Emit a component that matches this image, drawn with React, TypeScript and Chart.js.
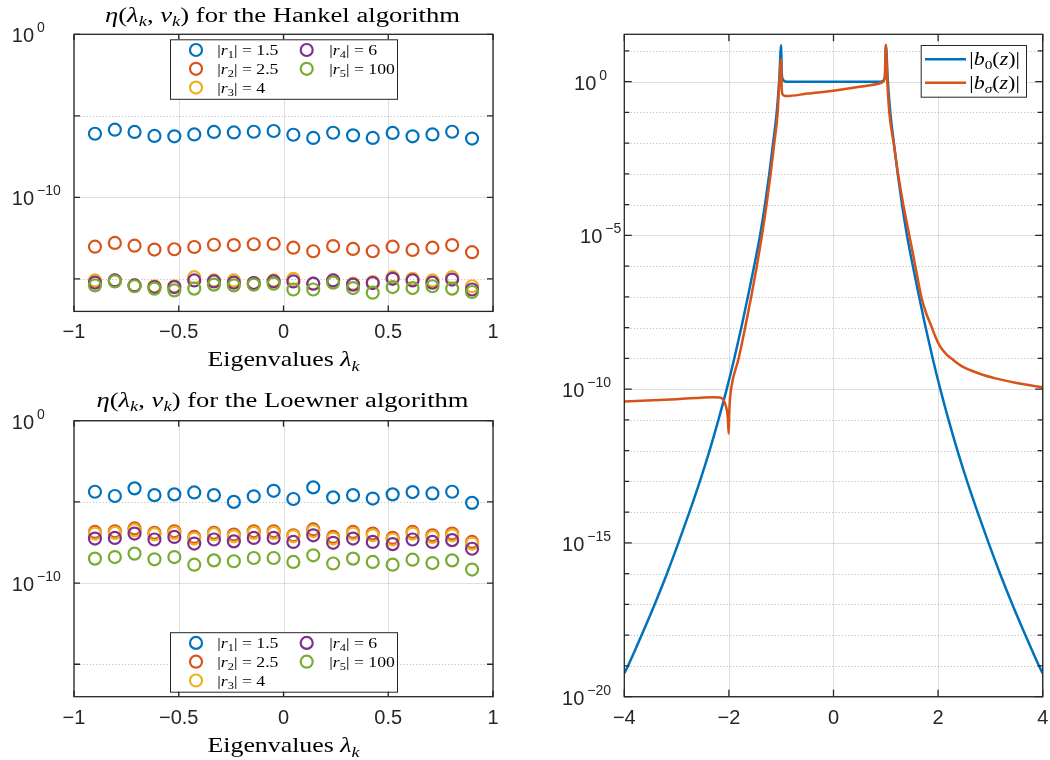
import React, { useEffect, useRef } from 'react';
import { Chart, registerables } from 'chart.js';

Chart.register(...registerables);

// ---------------- data ----------------
const EIGENVALUES = [-0.9, -0.805, -0.711, -0.616, -0.521, -0.426, -0.332, -0.237, -0.142, -0.047, 0.047, 0.142, 0.237, 0.332, 0.426, 0.521, 0.616, 0.711, 0.805, 0.9];

const R_LABELS = ['1.5', '2.5', '4', '6', '100'];

const HANKEL_R1 = [7.9e-7, 1.41e-6, 1.02e-6, 5.8e-7, 5.5e-7, 7.2e-7, 1.02e-6, 9.5e-7, 1.05e-6, 1.17e-6, 6.9e-7, 4.4e-7, 9.1e-7, 6.3e-7, 4.4e-7, 8.9e-7, 5.5e-7, 7.2e-7, 1.05e-6, 4.0e-7];
const HANKEL_R2 = [9.3e-14, 1.58e-13, 1.07e-13, 6.2e-14, 6.5e-14, 8.9e-14, 1.23e-13, 1.17e-13, 1.32e-13, 1.41e-13, 8.1e-14, 4.9e-14, 1.02e-13, 6.8e-14, 4.9e-14, 9.3e-14, 5.9e-14, 8.1e-14, 1.17e-13, 4.3e-14];
const HANKEL_R3 = [7.9e-16, 7.9e-16, 3.9e-16, 3.5e-16, 3.5e-16, 1.26e-15, 7.9e-16, 7.9e-16, 5.5e-16, 7.9e-16, 1.0e-15, 5.0e-16, 7.9e-16, 5.0e-16, 6.3e-16, 1.26e-15, 1.0e-15, 7.9e-16, 1.26e-15, 3.5e-16];
const HANKEL_R4 = [5.8e-16, 7.9e-16, 3.9e-16, 3.1e-16, 3.1e-16, 7.9e-16, 6.9e-16, 5.8e-16, 5.5e-16, 6.9e-16, 6.9e-16, 5.0e-16, 7.9e-16, 4.4e-16, 5.5e-16, 1.0e-15, 7.9e-16, 5.8e-16, 9.0e-16, 2.2e-16];
const HANKEL_R5 = [3.9e-16, 6.9e-16, 3.5e-16, 2.5e-16, 1.95e-16, 2.5e-16, 4.4e-16, 3.9e-16, 4.4e-16, 5.0e-16, 2.2e-16, 2.2e-16, 5.8e-16, 2.7e-16, 1.4e-16, 3.1e-16, 2.7e-16, 3.5e-16, 2.5e-16, 1.55e-16];

const LOEWNER_R1 = [4.2e-5, 2.3e-5, 6.8e-5, 2.6e-5, 2.9e-5, 3.8e-5, 2.6e-5, 1.0e-5, 2.2e-5, 4.8e-5, 1.5e-5, 7.8e-5, 1.9e-5, 2.6e-5, 1.6e-5, 2.9e-5, 4.0e-5, 3.3e-5, 4.2e-5, 8.7e-6];
const LOEWNER_R2 = [1.4e-7, 1.55e-7, 2.3e-7, 1.23e-7, 1.55e-7, 6.9e-8, 1.23e-7, 9.8e-8, 1.55e-7, 1.55e-7, 8.7e-8, 2.0e-7, 6.9e-8, 1.4e-7, 1.12e-7, 6.0e-8, 1.4e-7, 8.7e-8, 1.12e-7, 3.4e-8];
const LOEWNER_R3 = [1.12e-7, 1.23e-7, 1.8e-7, 1.02e-7, 1.23e-7, 5.5e-8, 1.02e-7, 7.6e-8, 1.23e-7, 1.23e-7, 7.6e-8, 1.6e-7, 5.5e-8, 1.12e-7, 8.7e-8, 4.8e-8, 1.12e-7, 6.9e-8, 8.7e-8, 2.7e-8];
const LOEWNER_R4 = [5.5e-8, 6.0e-8, 1.12e-7, 4.8e-8, 6.9e-8, 2.7e-8, 4.8e-8, 3.7e-8, 6.0e-8, 6.0e-8, 3.4e-8, 8.7e-8, 3.0e-8, 5.5e-8, 3.4e-8, 2.5e-8, 4.8e-8, 3.4e-8, 4.4e-8, 1.3e-8];
const LOEWNER_R5 = [3.2e-9, 4.0e-9, 6.5e-9, 2.9e-9, 4.0e-9, 1.35e-9, 2.5e-9, 2.2e-9, 3.5e-9, 3.5e-9, 2.0e-9, 5.1e-9, 1.6e-9, 3.2e-9, 2.0e-9, 1.35e-9, 2.75e-9, 1.7e-9, 2.5e-9, 6.8e-10];

const B0_Z = [-4.0, -3.93, -3.67, -3.42, -3.185, -2.965, -2.755, -2.555, -2.37, -2.2, -2.042, -1.897, -1.763, -1.638, -1.518, -1.405, -1.31, -1.228, -1.155, -1.086, -1.04, -1.0, -0.99, -0.97, -0.94, -0.9,
  0.9, 0.94, 0.97, 0.99, 1.0, 1.04, 1.086, 1.155, 1.228, 1.31, 1.405, 1.518, 1.638, 1.763, 1.897, 2.042, 2.2, 2.37, 2.555, 2.755, 2.965, 3.185, 3.42, 3.67, 3.93, 4.0];
const B0_VALUES = [5.8e-20, 1e-19, 1e-18, 1e-17, 1e-16, 1e-15, 1e-14, 1e-13, 1e-12, 1e-11, 1e-10, 1e-9, 1e-8, 1e-7, 1e-6, 1e-5, 1e-4, 1e-3, 1e-2, 0.1, 1, 15.5, 2.0, 1.2, 1.05, 1.0,
  1.0, 1.05, 1.2, 2.0, 15.5, 1, 0.1, 1e-2, 1e-3, 1e-4, 1e-5, 1e-6, 1e-7, 1e-8, 1e-9, 1e-10, 1e-11, 1e-12, 1e-13, 1e-14, 1e-15, 1e-16, 1e-17, 1e-18, 1e-19, 5.8e-20];

const BSIGMA_Z = [-4, -3.0, -2.3, -2.17, -2.106, -2.055, -2.023, -2.004, -1.995, -1.985, -1.959, -1.814, -1.69, -1.574, -1.466, -1.368, -1.28, -1.202, -1.132, -1.067, -1.035, -1.0, -0.99, -0.97, -0.93, -0.89, -0.5, 0, 0.5, 0.89, 0.95, 0.98, 1.0,
  1.029, 1.067, 1.15, 1.235, 1.335, 1.45, 1.565, 1.68, 1.77, 1.877, 1.95, 2.036, 2.15, 2.29, 2.45, 2.61, 2.85, 3.12, 3.5, 4.0];
const BSIGMA_VALUES = [4.0e-11, 4.7e-11, 5.5e-11, 5.4e-11, 4.5e-11, 2.75e-11, 1.3e-11, 3.6e-12, 1.26e-11, 3.5e-11, 1e-10, 1e-9, 1e-8, 1e-7, 1e-6, 1e-5, 1e-4, 1e-3, 1e-2, 0.1, 1, 5.4, 0.56, 0.38, 0.343, 0.34, 0.41, 0.51, 0.68, 0.89, 1.0, 1.41, 15.5,
  1, 0.1, 1e-2, 1e-3, 1e-4, 1e-5, 1e-6, 1e-7, 3.0e-8, 1.05e-8, 5e-9, 2.5e-9, 1.4e-9, 8.9e-10, 5.6e-10, 4.2e-10, 2.95e-10, 2.2e-10, 1.6e-10, 1.15e-10];

const LEFT_X_TICKS = [-1, -0.5, 0, 0.5, 1];
const LEFT_X_LABELS = ['-1', '-0.5', '0', '0.5', '1'];
const LEFT_Y_MAJOR = [0, -10];
const LEFT_Y_MINOR = [-5, -15];
const RIGHT_X_TICKS = [-4, -2, 0, 2, 4];
const RIGHT_X_LABELS = ['-4', '-2', '0', '2', '4'];
const RIGHT_Y_MAJOR = [0, -5, -10, -15, -20];
const RIGHT_Y_MINOR = [1, -1, -2, -3, -4, -6, -7, -8, -9, -11, -12, -13, -14, -16, -17, -18, -19];

// ---------------- styling ----------------
const COLORS = ['#0072BD', '#D95319', '#EDB120', '#7E2F8E', '#77AC30'];
const SANS = "'Liberation Sans', Arial, Helvetica, sans-serif";
const SERIF = "'Liberation Serif', 'Times New Roman', serif";
const AXIS = '#262626';

type Seg = { t: string; it?: boolean; sub?: boolean; sup?: boolean };

function segFont(s: Seg, size: number, family: string) {
  const sz = s.sub || s.sup ? size * 0.7 : size;
  return `${s.it ? 'italic ' : ''}${sz}px ${family}`;
}

function drawRich(ctx: CanvasRenderingContext2D, segs: Seg[], x: number, y: number, size: number, family: string,
  align: 'left' | 'center' | 'right', opts: { width?: number; stretch?: number; color?: string } = {}) {
  let nat = 0;
  for (const s of segs) { ctx.font = segFont(s, size, family); nat += ctx.measureText(s.t).width; }
  const sx = opts.width ? opts.width / nat : (opts.stretch ?? 1);
  const total = nat * sx;
  const x0 = align === 'left' ? x : align === 'center' ? x - total / 2 : x - total;
  ctx.save();
  ctx.translate(x0, y);
  ctx.scale(sx, 1);
  ctx.fillStyle = opts.color ?? '#000';
  ctx.textAlign = 'left';
  ctx.textBaseline = 'alphabetic';
  let cx = 0;
  for (const s of segs) {
    ctx.font = segFont(s, size, family);
    const dy = s.sub ? size * 0.22 : s.sup ? -size * 0.42 : 0;
    ctx.fillText(s.t, cx, dy);
    cx += ctx.measureText(s.t).width;
  }
  ctx.restore();
}

function minusify(s: string) { return s.replace('-', '\u2212'); }

type LegendCfg =
  | { kind: 'markers'; anchor: 'top' | 'bottom' }
  | { kind: 'lines' };

type AxesCfg = {
  xTicks: number[]; xLabels: string[]; yMajor: number[]; yMinor: number[];
  majorTick: number; minorTick: number; xTick: number;
  yLabelShift?: number[];
  title?: Seg[]; titleWidth?: number; titleOffset?: number;
  xlabel?: Seg[]; xlabelWidth?: number;
  legend: LegendCfg;
};

function axesPlugin(cfg: AxesCfg) {
  return {
    id: 'matlabAxes',
    beforeDatasetsDraw(chart: any) {
      const { ctx, chartArea: a, scales } = chart;
      const xs = scales.x, ys = scales.y;
      ctx.save();
      ctx.lineWidth = 1;
      ctx.strokeStyle = 'rgba(38,38,38,0.15)';
      ctx.setLineDash([]);
      ctx.beginPath();
      for (const t of cfg.xTicks) {
        const px = Math.round(xs.getPixelForValue(t)) + 0.5;
        ctx.moveTo(px, a.top); ctx.lineTo(px, a.bottom);
      }
      for (const e of cfg.yMajor) {
        const py = Math.round(ys.getPixelForValue(Math.pow(10, e))) + 0.5;
        ctx.moveTo(a.left, py); ctx.lineTo(a.right, py);
      }
      ctx.stroke();
      ctx.strokeStyle = 'rgba(38,38,38,0.32)';
      ctx.setLineDash([1, 2.2]);
      ctx.beginPath();
      for (const e of cfg.yMinor) {
        const py = Math.round(ys.getPixelForValue(Math.pow(10, e))) + 0.5;
        ctx.moveTo(a.left, py); ctx.lineTo(a.right, py);
      }
      ctx.stroke();
      ctx.restore();
    },
    afterDatasetsDraw(chart: any) {
      const { ctx, chartArea: a, scales } = chart;
      const xs = scales.x, ys = scales.y;
      ctx.save();
      ctx.strokeStyle = AXIS;
      ctx.lineWidth = 1.3;
      ctx.setLineDash([]);
      ctx.strokeRect(a.left, a.top, a.right - a.left, a.bottom - a.top);
      ctx.beginPath();
      for (const t of cfg.xTicks) {
        const px = xs.getPixelForValue(t);
        ctx.moveTo(px, a.bottom); ctx.lineTo(px, a.bottom - cfg.xTick);
        ctx.moveTo(px, a.top); ctx.lineTo(px, a.top + cfg.xTick);
      }
      for (const e of cfg.yMajor) {
        const py = ys.getPixelForValue(Math.pow(10, e));
        ctx.moveTo(a.left, py); ctx.lineTo(a.left + cfg.majorTick, py);
        ctx.moveTo(a.right, py); ctx.lineTo(a.right - cfg.majorTick, py);
      }
      for (const e of cfg.yMinor) {
        const py = ys.getPixelForValue(Math.pow(10, e));
        ctx.moveTo(a.left, py); ctx.lineTo(a.left + cfg.minorTick, py);
        ctx.moveTo(a.right, py); ctx.lineTo(a.right - cfg.minorTick, py);
      }
      ctx.stroke();
      ctx.fillStyle = AXIS;
      ctx.font = `20px ${SANS}`;
      ctx.textAlign = 'center';
      ctx.textBaseline = 'alphabetic';
      cfg.xTicks.forEach((t, i) => {
        ctx.fillText(minusify(cfg.xLabels[i]), xs.getPixelForValue(t), a.bottom + 27);
      });
      for (const e of cfg.yMajor) {
        const py = ys.getPixelForValue(Math.pow(10, e));
        const expStr = minusify(String(e));
        const shift = cfg.yLabelShift ? (cfg.yLabelShift[expStr.length] ?? 0) : 0;
        ctx.font = `20px ${SANS}`;
        ctx.textAlign = 'right';
        ctx.fillText('10', a.left - 40 + shift, py + 8);
        ctx.font = `14px ${SANS}`;
        ctx.textAlign = 'left';
        ctx.fillText(expStr, a.left - 37 + shift, py - 2);
      }
      const cx = (a.left + a.right) / 2;
      if (cfg.title) drawRich(ctx, cfg.title, cx - 1, a.top - (cfg.titleOffset ?? 13), 20, SERIF, 'center', { width: cfg.titleWidth });
      if (cfg.xlabel) drawRich(ctx, cfg.xlabel, cx, a.bottom + 55, 22, SERIF, 'center', { width: cfg.xlabelWidth });
      const lg = cfg.legend;
      ctx.setLineDash([]);
      if (lg.kind === 'markers') {
        const bw = 227, bh = 59.5;
        const bx = a.left + 96;
        const by = lg.anchor === 'top' ? a.top + 5 : a.bottom - 5 - bh;
        ctx.fillStyle = '#fff';
        ctx.fillRect(bx, by, bw, bh);
        ctx.strokeStyle = AXIS;
        ctx.lineWidth = 1;
        ctx.strokeRect(bx + 0.5, by + 0.5, bw, bh);
        const rows = [10.7, 29.5, 48.3];
        R_LABELS.forEach((lab, i) => {
          const col = i < 3 ? 0 : 1;
          const row = i < 3 ? i : i - 3;
          const mx = bx + (col === 0 ? 26 : 136.7);
          const my = by + rows[row];
          ctx.beginPath();
          ctx.strokeStyle = COLORS[i];
          ctx.lineWidth = 2.2;
          ctx.arc(mx, my, 6, 0, Math.PI * 2);
          ctx.stroke();
          const segs: Seg[] = [{ t: '|' }, { t: 'r', it: true }, { t: String(i + 1), sub: true }, { t: '| = ' + lab }];
          drawRich(ctx, segs, bx + (col === 0 ? 47.3 : 159.3), my + 5, 15, SERIF, 'left', { stretch: 1.18 });
        });
      } else {
        const bw = 105.3, bh = 51.7;
        const bx = a.right - 16.7 - bw;
        const by = a.top + 10.7;
        ctx.fillStyle = '#fff';
        ctx.fillRect(bx, by, bw, bh);
        ctx.strokeStyle = AXIS;
        ctx.lineWidth = 1;
        ctx.strokeRect(bx + 0.5, by + 0.5, bw, bh);
        const rows = [14.3, 37.7];
        const labels: Seg[][] = [
          [{ t: '|' }, { t: 'b', it: true }, { t: '0', sub: true }, { t: '(' }, { t: 'z', it: true }, { t: ')|' }],
          [{ t: '|' }, { t: 'b', it: true }, { t: '\u03C3', it: true, sub: true }, { t: '(' }, { t: 'z', it: true }, { t: ')|' }],
        ];
        rows.forEach((r, i) => {
          const my = by + r;
          ctx.beginPath();
          ctx.strokeStyle = COLORS[i];
          ctx.lineWidth = 2.5;
          ctx.moveTo(bx + 4.3, my); ctx.lineTo(bx + 45.3, my);
          ctx.stroke();
          drawRich(ctx, labels[i], bx + 48.6, my + 6, 18, SERIF, 'left', { stretch: 1.22 });
        });
      }
      ctx.restore();
    },
  };
}

function scatterSets(series: number[][]) {
  return series.map((vals, i) => ({
    label: `r${i + 1}`,
    data: EIGENVALUES.map((x, k) => ({ x, y: vals[k] })),
    borderColor: COLORS[i],
    backgroundColor: 'rgba(0,0,0,0)',
    pointBackgroundColor: 'rgba(0,0,0,0)',
    pointBorderColor: COLORS[i],
    pointBorderWidth: 2.2,
    pointRadius: 6,
    pointStyle: 'circle',
    showLine: false,
    order: series.length - i,
  }));
}

const ETA: Seg[] = [{ t: '\u03B7', it: true }, { t: '(' }, { t: '\u03BB', it: true }, { t: 'k', it: true, sub: true }, { t: ', ' }, { t: 'v', it: true }, { t: 'k', it: true, sub: true }, { t: ')' }];
const XLABEL: Seg[] = [{ t: 'Eigenvalues ' }, { t: '\u03BB', it: true }, { t: 'k', it: true, sub: true }];

function leftConfig(series: number[][], algo: string, anchor: 'top' | 'bottom', titleWidth: number, titleOffset: number, padTop: number, padBottom: number) {
  return {
    type: 'scatter',
    data: { datasets: scatterSets(series) },
    options: {
      responsive: false,
      animation: false,
      devicePixelRatio: 1,
      events: [],
      layout: { padding: { left: 74, right: 27, top: padTop, bottom: padBottom } },
      plugins: { legend: { display: false }, tooltip: { enabled: false }, title: { display: false } },
      scales: {
        x: { type: 'linear', min: -1, max: 1, display: false },
        y: { type: 'logarithmic', min: 1e-17, max: 1, display: false },
      },
    },
    plugins: [axesPlugin({
      xTicks: LEFT_X_TICKS, xLabels: LEFT_X_LABELS, yMajor: LEFT_Y_MAJOR, yMinor: LEFT_Y_MINOR,
      majorTick: 6, minorTick: 6, xTick: 6,
      title: [...ETA, { t: ` for the ${algo} algorithm` }], titleWidth, titleOffset,
      xlabel: XLABEL, xlabelWidth: 152,
      legend: { kind: 'markers', anchor },
    })],
  };
}

function rightConfig() {
  return {
    type: 'line',
    data: {
      datasets: [
        {
          label: 'b0',
          data: B0_Z.map((x, k) => ({ x, y: B0_VALUES[k] })),
          borderColor: COLORS[0], borderWidth: 2.5, pointRadius: 0, cubicInterpolationMode: 'monotone', fill: false, order: 1,
        },
        {
          label: 'bsigma',
          data: BSIGMA_Z.map((x, k) => ({ x, y: BSIGMA_VALUES[k] })),
          borderColor: COLORS[1], borderWidth: 2.5, pointRadius: 0, cubicInterpolationMode: 'monotone', fill: false, order: 0,
        },
      ],
    },
    options: {
      responsive: false,
      animation: false,
      devicePixelRatio: 1,
      events: [],
      layout: { padding: { left: 104.3, right: 7.3, top: 34.3, bottom: 63.3 } },
      plugins: { legend: { display: false }, tooltip: { enabled: false }, title: { display: false } },
      scales: {
        x: { type: 'linear', min: -4, max: 4, display: false },
        y: { type: 'logarithmic', min: 1e-20, max: 34.7, display: false },
      },
    },
    plugins: [axesPlugin({
      xTicks: RIGHT_X_TICKS, xLabels: RIGHT_X_LABELS, yMajor: RIGHT_Y_MAJOR, yMinor: RIGHT_Y_MINOR,
      majorTick: 7.5, minorTick: 5, xTick: 7,
      yLabelShift: [0, 12, 18, 0],
      legend: { kind: 'lines' },
    })],
  };
}

function ChartCanvas(props: { left: number; top: number; width: number; height: number; make: () => any }) {
  const ref = useRef<HTMLCanvasElement>(null);
  useEffect(() => {
    const chart = new Chart(ref.current as HTMLCanvasElement, props.make());
    return () => chart.destroy();
  }, []);
  return (
    <canvas
      ref={ref}
      width={props.width}
      height={props.height}
      style={{ position: 'absolute', left: props.left, top: props.top, width: props.width, height: props.height }}
    />
  );
}

export default function App() {
  return (
    <div style={{ position: 'absolute', left: 0, top: 0, width: 1050, height: 760, background: '#fff', overflow: 'hidden' }}>
      <ChartCanvas left={0} top={0} width={520} height={380}
        make={() => leftConfig([HANKEL_R1, HANKEL_R2, HANKEL_R3, HANKEL_R4, HANKEL_R5], 'Hankel', 'top', 355, 12.6, 34.3, 68.6)} />
      <ChartCanvas left={0} top={380} width={520} height={380}
        make={() => leftConfig([LOEWNER_R1, LOEWNER_R2, LOEWNER_R3, LOEWNER_R4, LOEWNER_R5], 'Loewner', 'bottom', 372, 14, 40.7, 63.3)} />
      <ChartCanvas left={520} top={0} width={530} height={760} make={rightConfig} />
    </div>
  );
}
